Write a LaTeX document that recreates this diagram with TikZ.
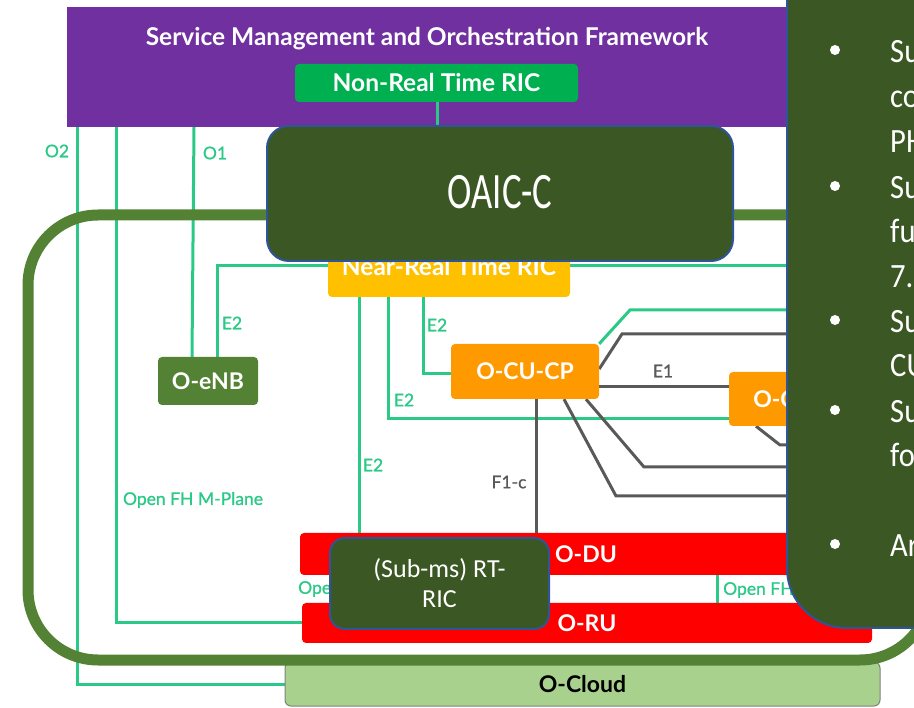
\documentclass[tikz,border=0pt]{standalone}
\usepackage{fontspec}
\setmainfont{Lato}
\newfontfamily\calfont{Carlito}
\newfontfamily\ifacefont[FakeBold=1]{Lato}
\usetikzlibrary{calc}
\definecolor{smopurple}{HTML}{7030A0}
\definecolor{nrtgreen}{HTML}{00B050}
\definecolor{ifgreen}{HTML}{2BC986}
\definecolor{ifgray}{HTML}{595959}
\definecolor{ricyellow}{HTML}{FFC000}
\definecolor{cuorange}{HTML}{FF9900}
\definecolor{dured}{HTML}{FF0000}
\definecolor{enbgreen}{HTML}{548235}
\definecolor{oaicgreen}{HTML}{3B5724}
\definecolor{oaicblue}{HTML}{2F5597}
\definecolor{cloudgreen}{HTML}{A9D18E}
\pgfdeclarelayer{wires}
\pgfdeclarelayer{over}
\pgfsetlayers{wires,main,over}
\begin{document}
\begin{tikzpicture}[x=1pt,y=-1pt,
  unit/.style={rectangle, rounded corners=4pt, inner sep=0pt, text=white,
    font=\fontsize{23}{27}\selectfont\bfseries},
  oaic/.style={rectangle, fill=oaicgreen, draw=oaicblue, line width=2pt,
    text=white, inner sep=0pt},
  gwire/.style={draw=ifgreen, line width=3pt},
  kwire/.style={draw=ifgray, line width=3pt},
  glabel/.style={text=ifgreen, font=\ifacefont\fontsize{17.5}{20}\selectfont, inner sep=0pt},
  klabel/.style={text=ifgray, font=\ifacefont\fontsize{17.5}{20}\selectfont, inner sep=0pt},
  note/.style={anchor=base west, text=white, inner sep=0pt,
    font=\calfont\fontsize{34}{40}\selectfont},
  dot/.style={circle, fill=white, inner sep=0pt, minimum size=10pt}
]
\useasboundingbox (0,0) rectangle (914,708);

% cloud platform underneath everything
\node[unit, fill=cloudgreen, draw=gray, line width=1pt, rounded corners=6pt,
  text=black, minimum width=595pt, minimum height=44pt] (ocloud) at (582.5,684) {O-Cloud};

% SMO framework
\node[rectangle, fill=smopurple, inner sep=0pt, minimum width=733pt,
  minimum height=120pt] (smo) at (433.5,67) {};
\node[unit, font=\fontsize{24.5}{28}\selectfont\bfseries] (smotitle) at (427,39)
  {Service Management and Orchestration Framework};
\node[unit, fill=nrtgreen, minimum width=283pt, minimum height=38pt,
  font=\fontsize{24.5}{28}\selectfont\bfseries] (nonrt) at (436.5,83) {Non-Real Time RIC};

% RAN functions
\node[unit, fill=enbgreen, minimum width=100pt, minimum height=48pt] (oenb) at (208,381) {O-eNB};
\node[unit, fill=ricyellow, minimum width=242pt, minimum height=62pt,
  font=\fontsize{24.5}{28}\selectfont\bfseries] (nearrt) at (449,266) {Near-Real Time RIC};
\node[unit, fill=cuorange, minimum width=148pt, minimum height=55pt] (cucp) at (525,371.5) {O-CU-CP};
\node[unit, fill=cuorange, minimum width=148pt, minimum height=54pt] (cuup) at (803,399) {O-CU-UP};
\node[unit, fill=dured, minimum width=572pt, minimum height=42pt] (odu) at (586,554) {O-DU};
\node[unit, fill=dured, minimum width=570pt, minimum height=40pt] (oru) at (587,623) {O-RU};

% interface labels
\node[glabel] (o2lbl) at (57,151) {O2};
\node[glabel] (o1lbl) at (215,153) {O1};
\node[glabel] (e2a) at (232,323) {E2};
\node[glabel] (e2b) at (437,325) {E2};
\node[glabel] (e2c) at (404,400) {E2};
\node[glabel] (e2d) at (373,465) {E2};
\node[glabel] (mplane) at (193,500) {Open FH M-Plane};
\node[glabel, anchor=west] (fhleft) at (298,589) {Open FH};
\node[glabel, anchor=west] (fhright) at (723,590) {Open FH};
\node[klabel] (e1lbl) at (663,371) {E1};
\node[klabel] (f1lbl) at (509,482) {F1-c};

% O-RAN boundary
\draw[draw=enbgreen, line width=11pt, rounded corners=70pt] (28,215) rectangle (930,660);

% OAIC components and notes
\begin{pgfonlayer}{over}
\node[oaic, rounded corners=22pt, minimum width=466pt, minimum height=135pt] (oaicc)
  at (500,193.5) {\calfont\fontsize{51}{51}\selectfont\raisebox{3pt}{\scalebox{0.72}[1]{OAIC-C}}};
\node[oaic, rounded corners=15pt, minimum width=219pt, minimum height=91pt,
  align=center, font=\calfont\fontsize{26}{30}\selectfont] (rtric) at (439.5,583.5) {(Sub-ms) RT-\\RIC};
\node[oaic, rounded corners=60pt, minimum width=213pt, minimum height=728pt] (notes) at (893.5,264) {};
\node[dot] (b1) at (835,50) {};
\node[dot] (b2) at (835,186) {};
\node[dot] (b3) at (835,320) {};
\node[dot] (b4) at (835,410) {};
\node[dot] (b5) at (835,544) {};
\node[note] (t1) at (890,63) {\scalebox{0.9}[1]{Su}};
\node[note] (t2) at (890,108) {\scalebox{0.9}[1]{co}};
\node[note] (t3) at (890,153) {\scalebox{0.9}[1]{PH}};
\node[note] (t4) at (890,199) {\scalebox{0.9}[1]{Su}};
\node[note] (t5) at (890,243) {\scalebox{0.9}[1]{fu}};
\node[note] (t6) at (890,288) {\scalebox{0.9}[1]{7.}};
\node[note] (t7) at (890,333) {\scalebox{0.9}[1]{Su}};
\node[note] (t8) at (890,377) {\scalebox{0.9}[1]{CU}};
\node[note] (t9) at (890,423) {\scalebox{0.9}[1]{Su}};
\node[note] (t10) at (890,467) {\scalebox{0.9}[1]{fo}};
\node[note] (t11) at (890,557) {\scalebox{0.9}[1]{Ar}};
\end{pgfonlayer}

% Non-RT RIC link to OAIC-C
\draw[gwire] (nonrt.south -| 437,0) -- (oaicc.north -| 437,0);

% interfaces
\begin{pgfonlayer}{wires}
\draw[gwire] (smo.south -| 77,0) |- (ocloud.west);
\draw[gwire] (smo.south -| 116,0) |- (oru.west);
\draw[gwire] (smo.south -| 194,0) -- (oenb.north -| 192,0);
\draw[gwire] (oenb.north -| 217,0) |- (notes.west |- nearrt.west);
\draw[gwire] (nearrt.south -| 359,0) -- (odu.north -| 359,0);
\draw[gwire] (nearrt.south -| 388,0) |- (cuup.west |- 0,419);
\draw[gwire] (nearrt.south -| 423,0) |- (cucp.west |- 0,374);
\draw[gwire] (cucp.north east) -- (630,310) -- (notes.west |- 0,310);
\draw[kwire] (cucp.east |- 0,369) -- (622,334) -- (notes.west |- 0,334);
\draw[kwire] (cucp.east |- 0,387) -- (cuup.west |- 0,387);
\draw[kwire] (cucp.south -| 586,0) -- (644,467) -- (notes.west |- 0,467);
\draw[kwire] (cucp.south -| 564,0) -- (616,496) -- (notes.west |- 0,496);
\draw[kwire] (cuup.south -| 756,0) -- (780,445) -- (notes.west |- 0,445);
\draw[kwire] (cucp.south -| 536,0) -- (odu.north -| 536,0);
\draw[gwire] (odu.south -| 717,0) -- (oru.north -| 717,0);
\end{pgfonlayer}
\end{tikzpicture}
\end{document}
